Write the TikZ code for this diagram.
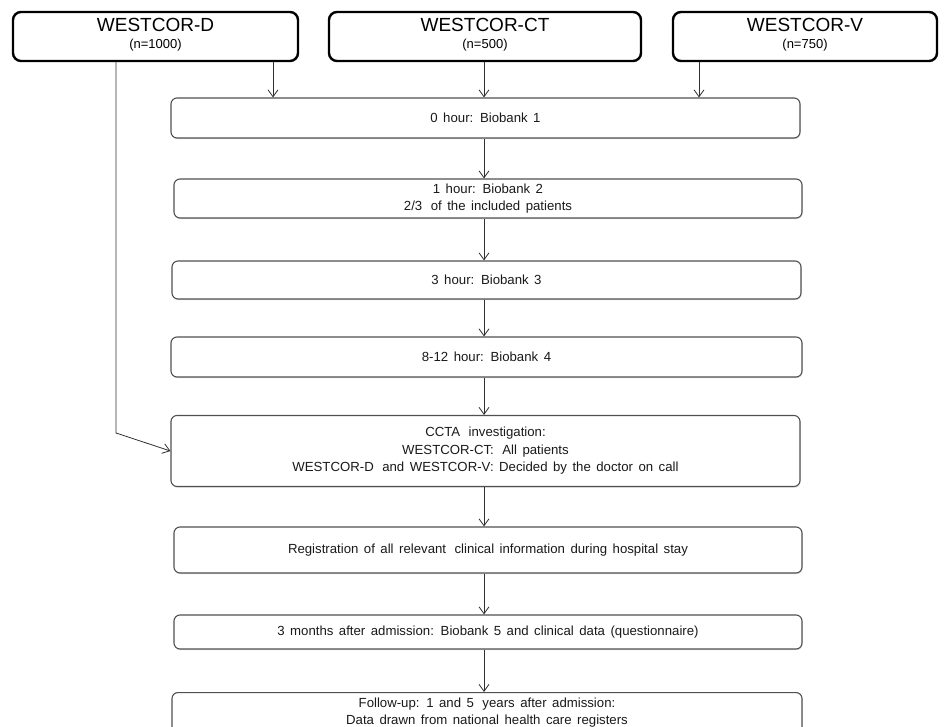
\documentclass[tikz,border=0pt]{standalone}
\usepackage{fontspec}
\setmainfont{Liberation Sans}[WordSpace=1.5]
\usetikzlibrary{arrows.meta,positioning,shadows}
\definecolor{wcInk}  {HTML}{1A1A1A}
\definecolor{wcEdge} {HTML}{505050}
\definecolor{wcLine} {HTML}{303030}
\newcommand{\wgap}{\hspace{8.5pt}}

\begin{document}
\begin{tikzpicture}[x=1pt,y=-1pt,font=\fontsize{13.2}{16.5}\selectfont,
    cohort/.style={draw=black,line width=2.4pt,rounded corners=8pt,fill=white,
      align=center,inner sep=0pt,minimum height=49pt,text depth=7pt,
      font=\fontsize{13}{17}\selectfont},
    stagebox/.style={draw=wcEdge,line width=1.1pt,rounded corners=6pt,fill=white,
      align=center,inner sep=0pt,text=wcInk,
      drop shadow={shadow xshift=0.6pt,shadow yshift=-1.2pt,opacity=0.25}},
    flow/.style={draw=wcLine,line width=0.8pt,-{Straight Barb[length=7pt,width=10pt,line width=0.8pt]}}]
        \clip (0,0) rectangle (948,727);
        \fill[white] (0,0) rectangle (948,727);
        % the three cohorts
        \node[cohort,minimum width=285pt] (wcd) at (155.5,36.5)
          {{\fontsize{19}{17}\selectfont WESTCOR-D}\\(n=1000)};
        \node[cohort,minimum width=312pt] (wcct) at (485,36.5)
          {{\fontsize{19}{17}\selectfont WESTCOR-CT}\\(n=500)};
        \node[cohort,minimum width=264pt] (wcv) at (805,36.5)
          {{\fontsize{19}{17}\selectfont WESTCOR-V}\\(n=750)};
        % stages
        \node[stagebox,minimum width=629pt,minimum height=40pt] (bb1) at (485.5,118)
          {0 hour: Biobank 1};
        \node[stagebox,minimum width=628pt,minimum height=39pt] (bb2) at (488,198.5)
          {1 hour: Biobank 2\\2/3\wgap of the included patients};
        \node[stagebox,minimum width=629pt,minimum height=38pt] (bb3) at (486.5,280)
          {3 hour: Biobank 3};
        \node[stagebox,minimum width=631pt,minimum height=40pt] (bb4) at (486.5,357)
          {8-12 hour: Biobank 4};
        \node[stagebox,minimum width=629pt,minimum height=71pt,
              font=\fontsize{13.2}{17.5}\selectfont] (ccta) at (485.5,451)
          {CCTA\wgap investigation:\\WESTCOR-CT:\wgap All patients\\WESTCOR-D\wgap and WESTCOR-V: Decided by the doctor on call};
        \node[stagebox,minimum width=628pt,minimum height=46pt] (reg) at (488,550)
          {Registration of all relevant\wgap clinical information during hospital stay};
        \node[stagebox,minimum width=628pt,minimum height=34pt] (bb5) at (488,632)
          {3 months after admission: Biobank 5 and clinical data (questionnaire)};
        \node[stagebox,minimum width=630pt,inner ysep=5.5pt,anchor=north,
              font=\fontsize{13.2}{17}\selectfont] (fup) at (487,692)
          {Follow-up: 1 and 5\wgap years after admission:\\Data drawn from national health care registers};
        % connector x positions
        \coordinate (spine) at (484,0);
        \coordinate (dx) at (273,0);
        \coordinate (vx) at (699,0);
        \coordinate (bend) at (116,433);
        \draw[flow] (wcd.south -| dx) -- (bb1.north -| dx);
        \draw[flow] (wcct.south -| spine) -- (bb1.north -| spine);
        \draw[flow] (wcv.south -| vx) -- (bb1.north -| vx);
        \draw[flow] (bb1.south -| spine) -- (bb2.north -| spine);
        \draw[flow] (bb2.south -| spine) -- (bb3.north -| spine);
        \draw[flow] (bb3.south -| spine) -- (bb4.north -| spine);
        \draw[flow] (bb4.south -| spine) -- (ccta.north -| spine);
        \draw[flow] (ccta.south -| spine) -- (reg.north -| spine);
        \draw[flow] (reg.south -| spine) -- (bb5.north -| spine);
        \draw[flow] (bb5.south -| spine) -- (fup.north -| spine);
        \draw[flow] (wcd.south -| bend) -- (bend) -- (ccta.west);
      \end{tikzpicture}
\end{document}
